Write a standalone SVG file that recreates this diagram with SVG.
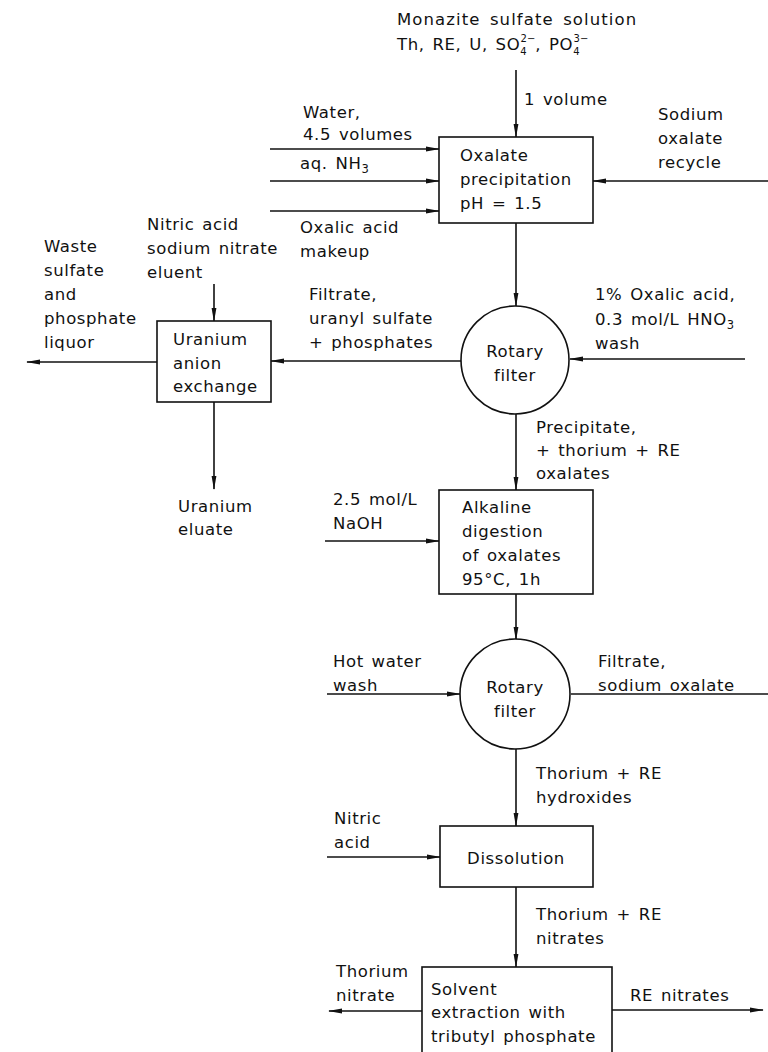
<svg xmlns="http://www.w3.org/2000/svg" width="768" height="1052" viewBox="0 0 768 1052">
<style>
text{font-family:"DejaVu Sans","Liberation Sans",sans-serif;font-size:16.5px;fill:#111;letter-spacing:0.6px;word-spacing:2px}
.title{letter-spacing:1.1px;word-spacing:3px}
.box{fill:#fff;stroke:#111;stroke-width:1.6}
.ln{fill:none;stroke:#111;stroke-width:1.6}
.sub{font-size:11.5px;letter-spacing:0}
.ion{font-size:10px;letter-spacing:0}
</style>
<defs>
<marker id="ah" markerWidth="14" markerHeight="6" refX="13" refY="3" orient="auto" markerUnits="userSpaceOnUse">
<path d="M0,0.6 L14,3 L0,5.4 Z" fill="#111"/>
</marker>
</defs>
<rect width="768" height="1052" fill="#fff"/>

<g id="connectors">
<line class="ln" x1="516" y1="70" x2="516" y2="137" marker-end="url(#ah)"/>
<line class="ln" x1="270" y1="149" x2="439" y2="149" marker-end="url(#ah)"/>
<line class="ln" x1="270" y1="181" x2="439" y2="181" marker-end="url(#ah)"/>
<line class="ln" x1="270" y1="211" x2="439" y2="211" marker-end="url(#ah)"/>
<line class="ln" x1="768" y1="181" x2="593" y2="181" marker-end="url(#ah)"/>
<line class="ln" x1="516" y1="223" x2="516" y2="306" marker-end="url(#ah)"/>
<line class="ln" x1="745" y1="359" x2="570" y2="359" marker-end="url(#ah)"/>
<line class="ln" x1="461" y1="361" x2="271" y2="361" marker-end="url(#ah)"/>
<line class="ln" x1="157" y1="362" x2="27" y2="362" marker-end="url(#ah)"/>
<line class="ln" x1="214" y1="284" x2="214" y2="321" marker-end="url(#ah)"/>
<line class="ln" x1="214" y1="402" x2="214" y2="489" marker-end="url(#ah)"/>
<line class="ln" x1="516" y1="414" x2="516" y2="490" marker-end="url(#ah)"/>
<line class="ln" x1="325" y1="541" x2="439" y2="541" marker-end="url(#ah)"/>
<line class="ln" x1="516" y1="594" x2="516" y2="640" marker-end="url(#ah)"/>
<line class="ln" x1="327" y1="694" x2="460" y2="694" marker-end="url(#ah)"/>
<line class="ln" x1="571" y1="694" x2="768" y2="694"/>
<line class="ln" x1="516" y1="749" x2="516" y2="826" marker-end="url(#ah)"/>
<line class="ln" x1="327" y1="857" x2="440" y2="857" marker-end="url(#ah)"/>
<line class="ln" x1="516" y1="887" x2="516" y2="967" marker-end="url(#ah)"/>
<line class="ln" x1="422" y1="1011" x2="329" y2="1011" marker-end="url(#ah)"/>
<line class="ln" x1="612" y1="1010" x2="763" y2="1010" marker-end="url(#ah)"/>
</g>

<g id="labels">
<text class="title" x="397" y="25">Monazite sulfate solution</text>
<text x="397" y="50">Th, RE, U, SO<tspan class="ion" dy="5">4</tspan><tspan class="ion" dx="-6" dy="-13">2−</tspan><tspan dy="8">, PO</tspan><tspan class="ion" dy="5">4</tspan><tspan class="ion" dx="-6" dy="-13">3−</tspan></text>
<text x="524" y="105">1 volume</text>
<text x="303" y="118">Water,</text>
<text x="303" y="140">4.5 volumes</text>
<text x="300" y="169">aq. NH<tspan class="sub" dy="4">3</tspan></text>
<text x="300" y="233">Oxalic acid</text>
<text x="300" y="257">makeup</text>
<text x="658" y="120">Sodium</text>
<text x="658" y="144">oxalate</text>
<text x="658" y="168">recycle</text>
<text x="147" y="230">Nitric acid</text>
<text x="147" y="254">sodium nitrate</text>
<text x="147" y="278">eluent</text>
<text x="44" y="252">Waste</text>
<text x="44" y="276">sulfate</text>
<text x="44" y="300">and</text>
<text x="44" y="324">phosphate</text>
<text x="44" y="348">liquor</text>
<text x="309" y="300">Filtrate,</text>
<text x="309" y="324">uranyl sulfate</text>
<text x="309" y="348">+ phosphates</text>
<text x="595" y="300">1% Oxalic acid,</text>
<text x="595" y="325">0.3 mol/L HNO<tspan class="sub" dy="4">3</tspan></text>
<text x="595" y="349">wash</text>
<text x="178" y="512">Uranium</text>
<text x="178" y="535">eluate</text>
<text x="536" y="433">Precipitate,</text>
<text x="536" y="456">+ thorium + RE</text>
<text x="536" y="479">oxalates</text>
<text x="333" y="505">2.5 mol/L</text>
<text x="333" y="529">NaOH</text>
<text x="333" y="667">Hot water</text>
<text x="333" y="691">wash</text>
<text x="598" y="667">Filtrate,</text>
<text x="598" y="691">sodium oxalate</text>
<text x="536" y="779">Thorium + RE</text>
<text x="536" y="803">hydroxides</text>
<text x="334" y="824">Nitric</text>
<text x="334" y="848">acid</text>
<text x="536" y="920">Thorium + RE</text>
<text x="536" y="944">nitrates</text>
<text x="336" y="977">Thorium</text>
<text x="336" y="1001">nitrate</text>
<text x="630" y="1001">RE nitrates</text>
</g>

<g id="oxalate-precipitation">
<rect class="box" x="439" y="137" width="154" height="86"/>
<text x="460" y="161">Oxalate</text>
<text x="460" y="185">precipitation</text>
<text x="460" y="209">pH = 1.5</text>
</g>

<g id="rotary-filter-1">
<circle class="box" cx="515" cy="360" r="54"/>
<text x="515" y="357" text-anchor="middle">Rotary</text>
<text x="515" y="381" text-anchor="middle">filter</text>
</g>

<g id="uranium-anion-exchange">
<rect class="box" x="157" y="321" width="114" height="81"/>
<text x="173" y="345">Uranium</text>
<text x="173" y="369">anion</text>
<text x="173" y="392">exchange</text>
</g>

<g id="alkaline-digestion">
<rect class="box" x="439" y="490" width="154" height="104"/>
<text x="462" y="513">Alkaline</text>
<text x="462" y="537">digestion</text>
<text x="462" y="561">of oxalates</text>
<text x="462" y="585">95°C, 1h</text>
</g>

<g id="rotary-filter-2">
<circle class="box" cx="515" cy="694" r="55"/>
<text x="515" y="693" text-anchor="middle">Rotary</text>
<text x="515" y="717" text-anchor="middle">filter</text>
</g>

<g id="dissolution">
<rect class="box" x="440" y="826" width="153" height="61"/>
<text x="516" y="864" text-anchor="middle">Dissolution</text>
</g>

<g id="solvent-extraction">
<rect class="box" x="422" y="967" width="190" height="95"/>
<text x="431" y="995">Solvent</text>
<text x="431" y="1018">extraction with</text>
<text x="431" y="1042">tributyl phosphate</text>
</g>
</svg>
